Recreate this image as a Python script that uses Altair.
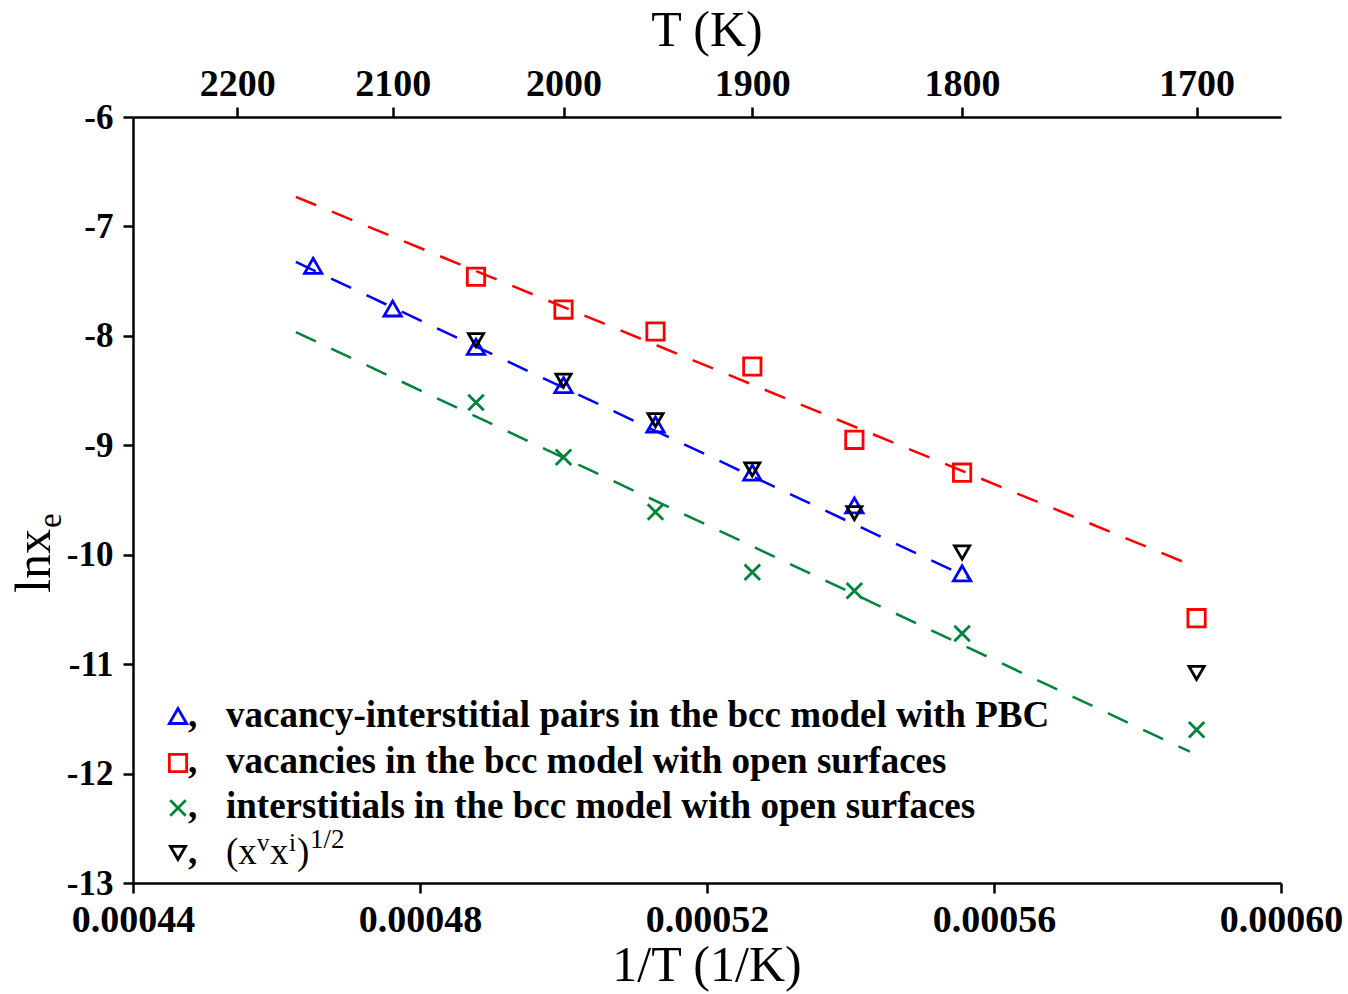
import altair as alt
import pandas as pd

# ---------------- data ----------------
T_pairs = [2150, 2100, 2050, 2000, 1950, 1900, 1850, 1800]
ln_pairs = [-7.36, -7.75, -8.10, -8.45, -8.81, -9.25, -9.55, -10.17]

T_open = [2050, 2000, 1950, 1900, 1850, 1800, 1700]
ln_vac = [-7.46, -7.76, -7.96, -8.28, -8.95, -9.25, -10.58]
ln_int = [-8.61, -9.11, -9.61, -10.16, -10.33, -10.72, -11.60]
ln_geo = [-8.04, -8.41, -8.77, -9.22, -9.62, -9.98, -11.08]

fit_x_long = [0.0004627, 0.0005873]
fit_x_pairs = [0.0004627, 0.0005564]
fit_vac = [-6.73, -10.09]
fit_pairs = [-7.325, -10.21]
fit_int = [-7.965, -11.80]

x_ticks = [0.00044, 0.00048, 0.00052, 0.00056, 0.00060]
y_ticks = [-13, -12, -11, -10, -9, -8, -7, -6]
top_T_ticks = [2200, 2100, 2000, 1900, 1800, 1700]

legend_labels = [
    "vacancy-interstitial pairs in the bcc model with PBC",
    "vacancies in the bcc model with open surfaces",
    "interstitials in the bcc model with open surfaces",
]

BLUE, RED, GREEN, BLACK = "#0000ff", "#ff0000", "#00843c", "#000000"
SERIF = "Liberation Serif"

W, H = 1148, 766

xscale = alt.Scale(domain=[0.00044, 0.00060], nice=False, zero=False)
yscale = alt.Scale(domain=[-13, -6], nice=False, zero=False)

common_axis = dict(grid=False, title=None, labelFont=SERIF, labelFontWeight="bold",
                   labelColor="black", tickSize=10, labelOverlap=False,
                   labelFlush=False, labelBound=False, domainColor="black",
                   tickColor="black", domainWidth=2.5, tickWidth=2.5)

bottom_axis = alt.Axis(orient="bottom", values=x_ticks,
                       labelExpr="format(datum.value, '.5f')",
                       labelFontSize=38, labelPadding=8, **common_axis)
top_axis = alt.Axis(orient="top", values=[1.0 / t for t in top_T_ticks],
                    labelExpr="format(1/datum.value, '.0f')",
                    labelFontSize=38, labelPadding=4, **common_axis)
left_axis = alt.Axis(orient="left", values=y_ticks,
                     labelExpr="datum.value + ''",
                     labelFontSize=35, labelPadding=10, **common_axis)

CROSS = "M-1,-1L1,1M-1,1L1,-1"
SW = 2.8


def fit_layer(xs, ys, color, xaxis):
    df = pd.DataFrame({"x": xs, "y": ys})
    return alt.Chart(df).mark_line(color=color, strokeWidth=2.5,
                                   strokeDash=[22, 17]).encode(
        x=alt.X("x:Q", scale=xscale, axis=xaxis),
        y=alt.Y("y:Q", scale=yscale, axis=left_axis),
    )


def pts_layer(Ts, ys, color, shape, size, xaxis=None):
    df = pd.DataFrame({"x": [1.0 / t for t in Ts], "y": ys})
    return alt.Chart(df).mark_point(shape=shape, filled=False, color=color,
                                    strokeWidth=SW, size=size, opacity=1).encode(
        x=alt.X("x:Q", scale=xscale, axis=xaxis),
        y=alt.Y("y:Q", scale=yscale, axis=left_axis),
    )


def text_layer(txt, x, y, size, weight="bold", align="left", angle=0):
    kw = dict(align=align, baseline="alphabetic", font=SERIF, fontSize=size,
              fontWeight=weight, color="black")
    if angle:
        kw["angle"] = angle
    return alt.Chart(alt.Data(values=[{"t": txt}])).mark_text(**kw).encode(
        x=alt.value(x), y=alt.value(y), text="t:N")


def sym_layer(shape, color, size, x, y):
    return alt.Chart(alt.Data(values=[{"a": 1}])).mark_point(
        shape=shape, filled=False, color=color, strokeWidth=SW, size=size,
        opacity=1).encode(x=alt.value(x), y=alt.value(y))


layers = [
    fit_layer(fit_x_long, fit_vac, RED, bottom_axis),
    fit_layer(fit_x_pairs, fit_pairs, BLUE, None),
    fit_layer(fit_x_long, fit_int, GREEN, None),
    pts_layer(T_open, ln_vac, RED, "square", 300),
    pts_layer(T_pairs, ln_pairs, BLUE, "triangle-up", 300),
    pts_layer(T_open, ln_int, GREEN, CROSS, 240),
    pts_layer(T_open, ln_geo, BLACK, "triangle-down", 230, top_axis),
]

# legend
sym_x = 45
sym_y = [599, 646, 691, 736]
txt_y = [610, 656, 701, 747]
shapes = [("triangle-up", BLUE, 300), ("square", RED, 300), (CROSS, GREEN, 240),
          ("triangle-down", BLACK, 230)]
for (shp, col, sz), sy, ty in zip(shapes, sym_y, txt_y):
    layers.append(sym_layer(shp, col, sz, sym_x, sy))
    layers.append(text_layer(",", 55, ty, 37))
for lab, ty in zip(legend_labels, txt_y[:3]):
    layers.append(text_layer(lab, 93, ty, 37))

# fourth legend entry: (x^v x^i)^1/2
b4 = txt_y[3]
layers += [
    text_layer("(x", 93, b4, 37, "normal"),
    text_layer("v", 124, b4 - 13, 25, "normal"),
    text_layer("x", 137, b4, 37, "normal"),
    text_layer("i", 156, b4 - 13, 25, "normal"),
    text_layer(")", 164, b4, 37, "normal"),
    text_layer("1/2", 177, b4 - 16, 27, "normal"),
]

# axis titles
layers += [
    text_layer("T (K)", 574, -71, 50, "normal", align="center"),
    text_layer("1/T (1/K)", 574, 864, 50, "normal", align="center"),
    text_layer("lnx", -83, 476, 50, "normal", angle=270),
    text_layer("e", -72, 411, 33, "normal", angle=270),
]

chart = alt.layer(*layers).resolve_axis(x="independent").resolve_scale(
    x="shared", y="shared").properties(
    width=W, height=H,
    autosize=alt.AutoSizeParams(type="none"),
    padding={"left": 133, "top": 117, "right": 67, "bottom": 111},
    background="white",
).configure_view(stroke=None)

chart.save("out.html", embed_options={"renderer": "svg", "actions": False})
